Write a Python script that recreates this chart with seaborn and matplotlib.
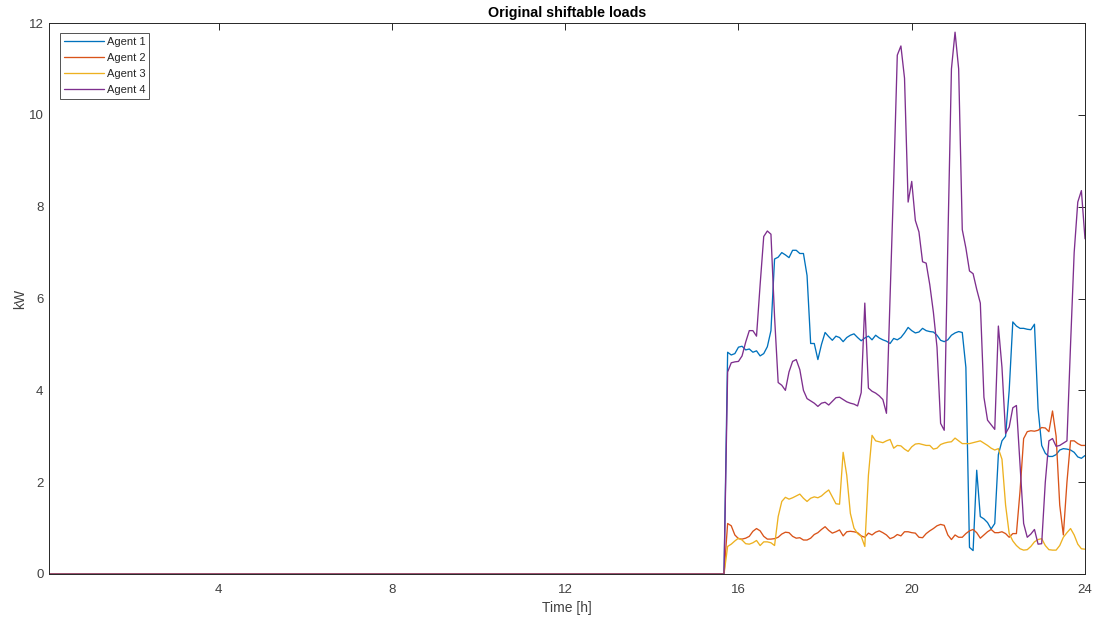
import numpy as np
import pandas as pd
import matplotlib
matplotlib.use("Agg")
import matplotlib.pyplot as plt
import seaborn as sns

# ---- data (5-minute resolution, 288 steps; all agents 0 before 15:45) ----
n_steps = 288
first_active_step = 189  # step index (1-based) of first non-zero sample
agents = ["Agent 1", "Agent 2", "Agent 3", "Agent 4"]
colors = ["#0072BD", "#D95319", "#EDB120", "#7E2F8E"]

agent1_active = [4.83, 4.77, 4.8, 4.94, 4.96, 4.88, 4.9, 4.83, 4.86, 4.75, 4.8, 4.95, 5.3,
                 6.86, 6.9, 7.0, 6.95, 6.89, 7.05, 7.05, 6.98, 6.98, 6.5, 5.02, 5.02, 4.67,
                 5.0, 5.26, 5.17, 5.09, 5.18, 5.15, 5.06, 5.15, 5.2, 5.23, 5.15, 5.08, 5.14,
                 5.18, 5.1, 5.2, 5.14, 5.1, 5.07, 5.02, 5.13, 5.1, 5.15, 5.25, 5.37, 5.3,
                 5.25, 5.27, 5.35, 5.3, 5.28, 5.27, 5.2, 5.09, 5.06, 5.1, 5.2, 5.25, 5.28,
                 5.26, 4.5, 0.58, 0.51, 2.26, 1.25, 1.2, 1.12, 0.98, 1.1, 2.6, 2.9, 3.0,
                 4.0, 5.49, 5.4, 5.35, 5.35, 5.33, 5.32, 5.44, 3.6, 2.8, 2.63, 2.56, 2.56,
                 2.6, 2.7, 2.73, 2.72, 2.7, 2.65, 2.55, 2.52, 2.58]
agent2_active = [1.1, 1.05, 0.85, 0.77, 0.76, 0.78, 0.82, 0.93, 0.99, 0.94, 0.82, 0.76, 0.76,
                 0.77, 0.8, 0.87, 0.91, 0.9, 0.82, 0.78, 0.79, 0.74, 0.74, 0.78, 0.86, 0.9,
                 0.97, 1.03, 0.95, 0.89, 0.92, 0.96, 0.83, 0.92, 0.93, 0.92, 0.9, 0.83, 0.8,
                 0.89, 0.85, 0.91, 0.94, 0.9, 0.85, 0.77, 0.8, 0.86, 0.83, 0.92, 0.92, 0.9,
                 0.89, 0.8, 0.79, 0.88, 0.94, 0.99, 1.05, 1.08, 1.06, 0.85, 0.75, 0.85, 0.8,
                 0.8, 0.88, 0.94, 0.97, 0.9, 0.78, 0.85, 0.92, 0.97, 0.9, 0.9, 0.92, 0.88,
                 0.8, 0.88, 0.88, 1.8, 2.95, 3.1, 3.12, 3.11, 3.13, 3.19, 3.18, 3.1, 3.55,
                 3.0, 1.5, 0.85, 2.0, 2.9, 2.9, 2.84, 2.8, 2.8]
agent3_active = [0.6, 0.65, 0.72, 0.78, 0.74, 0.66, 0.65, 0.68, 0.73, 0.62, 0.7, 0.7, 0.68,
                 0.62, 1.25, 1.58, 1.67, 1.63, 1.66, 1.7, 1.74, 1.65, 1.58, 1.65, 1.68, 1.66,
                 1.7, 1.77, 1.83, 1.68, 1.53, 1.52, 2.65, 2.15, 1.32, 1.0, 0.88, 0.82, 0.6,
                 2.15, 3.02, 2.9, 2.88, 2.86, 2.9, 2.93, 2.74, 2.8, 2.79, 2.72, 2.67, 2.77,
                 2.83, 2.84, 2.82, 2.8, 2.8, 2.72, 2.74, 2.82, 2.85, 2.87, 2.88, 2.96, 2.9,
                 2.84, 2.84, 2.84, 2.86, 2.88, 2.9, 2.85, 2.8, 2.74, 2.7, 2.73, 2.5, 1.5,
                 0.88, 0.72, 0.62, 0.55, 0.52, 0.53, 0.6, 0.7, 0.75, 0.77, 0.62, 0.53, 0.52,
                 0.52, 0.62, 0.8, 0.9, 0.99, 0.85, 0.65, 0.55, 0.54]
agent4_active = [4.4, 4.6, 4.62, 4.63, 4.75, 5.05, 5.3, 5.3, 5.18, 6.3, 7.35, 7.47, 7.4,
                 5.6, 4.17, 4.11, 4.0, 4.4, 4.63, 4.67, 4.45, 4.0, 3.82, 3.77, 3.72, 3.65,
                 3.72, 3.74, 3.68, 3.76, 3.84, 3.85, 3.8, 3.75, 3.72, 3.7, 3.66, 3.95, 5.9,
                 4.05, 3.98, 3.94, 3.88, 3.8, 3.5, 6.0, 8.55, 11.3, 11.5, 10.8, 8.1, 8.55,
                 7.7, 7.45, 6.8, 6.77, 6.3, 5.7, 4.94, 3.28, 3.13, 7.2, 11.0, 11.8, 11.0,
                 7.5, 7.1, 6.6, 6.54, 6.2, 5.9, 3.85, 3.35, 3.25, 3.15, 5.4, 4.5, 3.06,
                 3.2, 3.62, 3.67, 2.4, 1.1, 0.8, 0.87, 0.97, 0.65, 0.66, 2.0, 2.9, 2.95,
                 2.78, 2.8, 2.85, 2.9, 5.0, 7.0, 8.1, 8.35, 7.3]

x_ticks = [4, 8, 12, 16, 20, 24]
y_ticks = [0, 2, 4, 6, 8, 10, 12]
title = "Original shiftable loads"
x_label = "Time [h]"
y_label = "kW"

# ---- build long-form table ----
steps = np.arange(1, n_steps + 1)
time_h = steps / 12.0
n_zero = first_active_step - 1
series = [agent1_active, agent2_active, agent3_active, agent4_active]
frames = []
for name, vals in zip(agents, series):
    full = [0.0] * n_zero + list(vals)
    frames.append(pd.DataFrame({"Time": time_h, "kW": full, "Agent": name}))
df = pd.concat(frames, ignore_index=True)

# ---- style ----
sns.set_style("white")
plt.rcParams["font.family"] = ["Liberation Sans", "DejaVu Sans"]
axis_col = "#262626"
label_col = "#404040"

fig = plt.figure(figsize=(10.97, 6.20), dpi=100)
ax = fig.add_axes([49 / 1097, 1 - 574 / 620, (1085 - 49) / 1097, (574 - 23) / 620])

sns.lineplot(data=df, x="Time", y="kW", hue="Agent", palette=colors,
             linewidth=0.95, ax=ax, legend=True)

ax.set_xlim(1 / 12, 24)
ax.set_ylim(0, 12)
ax.set_xticks(x_ticks)
ax.set_yticks(y_ticks)
ax.set_title(title, fontsize=10.3, fontweight="bold", color="black", pad=4)
ax.set_xlabel(x_label, fontsize=10, color=label_col, labelpad=4)
ax.set_ylabel(y_label, fontsize=10, color=label_col, labelpad=1)

for s in ax.spines.values():
    s.set_visible(True)
    s.set_color(axis_col)
    s.set_linewidth(0.7)
ax.tick_params(axis="both", which="both", direction="in", length=5, width=0.7,
               colors=axis_col, labelcolor=label_col, labelsize=9.5,
               top=True, right=True, labeltop=False, labelright=False)
ax.tick_params(axis="x", pad=7)
ax.tick_params(axis="y", pad=4)

leg = ax.legend(loc="upper left", bbox_to_anchor=(60 / 1097, 1 - 33 / 620),
                bbox_transform=fig.transFigure, fontsize=8,
                frameon=True, fancybox=False, handlelength=3.6, handletextpad=0.27,
                borderpad=0.35, labelspacing=0.55, borderaxespad=0.0)
leg.get_frame().set_edgecolor(axis_col)
leg.get_frame().set_linewidth(0.7)
leg.set_title(None)

fig.savefig("out.png", dpi=100)
